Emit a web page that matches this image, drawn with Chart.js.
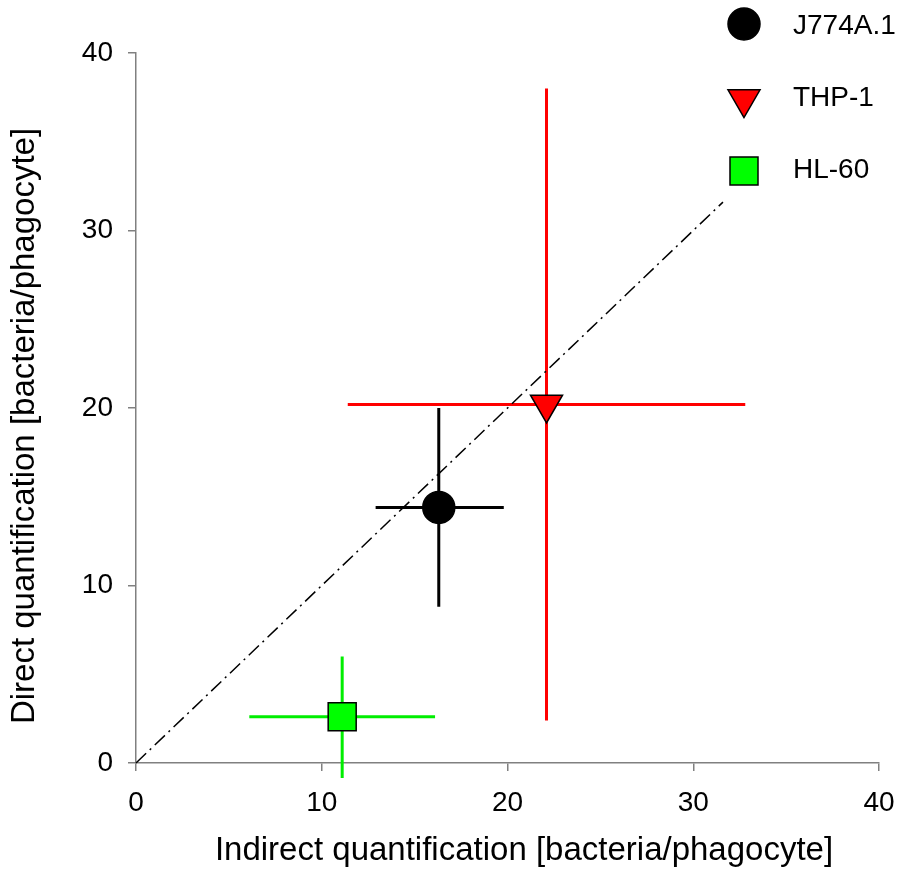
<!DOCTYPE html>
<html>
<head>
<meta charset="utf-8">
<script src="https://cdn.jsdelivr.net/npm/chart.js@4.4.1/dist/chart.umd.min.js"></script>
<style>
  body { margin: 0; background: #fff; }
  #wrap { width: 901px; height: 879px; }
</style>
</head>
<body>
<div id="wrap"><canvas id="chart" width="901" height="879"></canvas></div>
<script>
// cell lines and their mean values (indirect = x, direct = y)
const cellLines = ['J774A.1', 'THP-1', 'HL-60'];
const xMean = [16.3, 22.1, 11.1];
const yMean = [14.4, 20.2, 2.6];
// error bar ends
const xLow = [12.9, 11.4, 6.1];
const xHigh = [19.8, 32.8, 16.1];
const yLow = [8.8, 2.4, -0.85];
const yHigh = [20.0, 38.0, 6.0];
// identity line
const lineX = [0, 31.6];
const lineY = [0, 31.6];
const axisTicks = [0, 10, 20, 30, 40];
const xTitle = 'Indirect quantification [bacteria/phagocyte]';
const yTitle = 'Direct quantification [bacteria/phagocyte]';

const markerStyles = [
    { pointStyle: 'circle', radius: 16, rotation: 0, fill: '#000000', bar: '#000000' },
    { pointStyle: 'triangle', radius: 18.5, rotation: 180, fill: '#ff0000', bar: '#ff0000' },
    { pointStyle: 'rect', radius: 19.8, rotation: 0, fill: '#00ff00', bar: '#00ee00' }
];

const FONT = 'Liberation Sans, Arial, sans-serif';

// error bars drawn under the markers
const errorBars = {
    id: 'errorBars',
    beforeDatasetsDraw(chart) {
        const ctx = chart.ctx;
        const xs = chart.scales.x, ys = chart.scales.y;
        ctx.save();
        ctx.lineWidth = 3;
        cellLines.forEach((name, i) => {
            ctx.strokeStyle = markerStyles[i].bar;
            const cx = xs.getPixelForValue(xMean[i]);
            const cy = ys.getPixelForValue(yMean[i]);
            ctx.beginPath();
            ctx.moveTo(xs.getPixelForValue(xLow[i]), cy);
            ctx.lineTo(xs.getPixelForValue(xHigh[i]), cy);
            ctx.moveTo(cx, ys.getPixelForValue(yLow[i]));
            ctx.lineTo(cx, ys.getPixelForValue(yHigh[i]));
            ctx.stroke();
        });
        ctx.restore();
    }
};

// axis titles (slightly off-centre in the original) and legend in the top right corner
const labelsAndLegend = {
    id: 'labelsAndLegend',
    afterDraw(chart) {
        const ctx = chart.ctx;
        ctx.save();
        ctx.fillStyle = '#000000';
        ctx.font = '33px ' + FONT;
        ctx.textAlign = 'center';
        ctx.textBaseline = 'middle';
        ctx.fillText(xTitle, 524, 851);
        ctx.translate(25, 426);
        ctx.rotate(-Math.PI / 2);
        ctx.fillText(yTitle, 0, 0);
        ctx.restore();

        const rows = [24, 99, 171];
        const textRows = [26, 98, 170];
        ctx.save();
        cellLines.forEach((name, i) => {
            const m = markerStyles[i];
            ctx.fillStyle = m.fill;
            ctx.strokeStyle = '#000000';
            ctx.lineWidth = 1.5;
            Chart.helpers.drawPoint(ctx, {
                pointStyle: m.pointStyle,
                radius: m.radius,
                rotation: m.rotation,
                borderWidth: 1.5
            }, 744, rows[i]);
            ctx.fillStyle = '#000000';
            ctx.font = '28px ' + FONT;
            ctx.textBaseline = 'middle';
            ctx.textAlign = 'left';
            ctx.fillText(name, 793, textRows[i]);
        });
        ctx.restore();
    }
};

const datasets = cellLines.map((name, i) => ({
    type: 'scatter',
    label: name,
    data: [{ x: xMean[i], y: yMean[i] }],
    pointStyle: markerStyles[i].pointStyle,
    pointRadius: markerStyles[i].radius,
    pointHoverRadius: markerStyles[i].radius,
    rotation: markerStyles[i].rotation,
    backgroundColor: markerStyles[i].fill,
    borderColor: '#000000',
    borderWidth: 1.5,
    clip: false
}));

datasets.push({
    type: 'line',
    label: 'identity',
    data: lineX.map((x, i) => ({ x: x, y: lineY[i] })),
    borderColor: '#000000',
    borderWidth: 1.5,
    borderDash: [14, 5, 2, 5],
    pointRadius: 0,
    fill: false,
    clip: false
});

const axisGrid = {
    display: true,
    drawOnChartArea: false,
    drawTicks: true,
    tickLength: 8,
    color: '#808080',
    lineWidth: 1.5
};

new Chart(document.getElementById('chart'), {
    data: { datasets: datasets },
    plugins: [errorBars, labelsAndLegend],
    options: {
        responsive: false,
        animation: false,
        layout: { padding: { top: 53, right: 22, left: 0, bottom: 0 } },
        plugins: { legend: { display: false }, tooltip: { enabled: false } },
        scales: {
            x: {
                type: 'linear',
                min: 0,
                max: 40,
                afterBuildTicks: s => { s.ticks = axisTicks.map(v => ({ value: v })); },
                afterFit: s => { s.height = 116; s.paddingLeft = 0; s.paddingRight = 0; },
                grid: axisGrid,
                border: { color: '#808080', width: 1.5 },
                ticks: { color: '#000000', font: { family: FONT, size: 28 }, padding: 15, maxRotation: 0 }
            },
            y: {
                type: 'linear',
                min: 0,
                max: 40,
                afterBuildTicks: s => { s.ticks = axisTicks.map(v => ({ value: v })); },
                afterFit: s => { s.width = 136; },
                grid: axisGrid,
                border: { color: '#808080', width: 1.5 },
                ticks: { color: '#000000', font: { family: FONT, size: 28 }, padding: 15 }
            }
        }
    }
});
</script>
</body>
</html>
